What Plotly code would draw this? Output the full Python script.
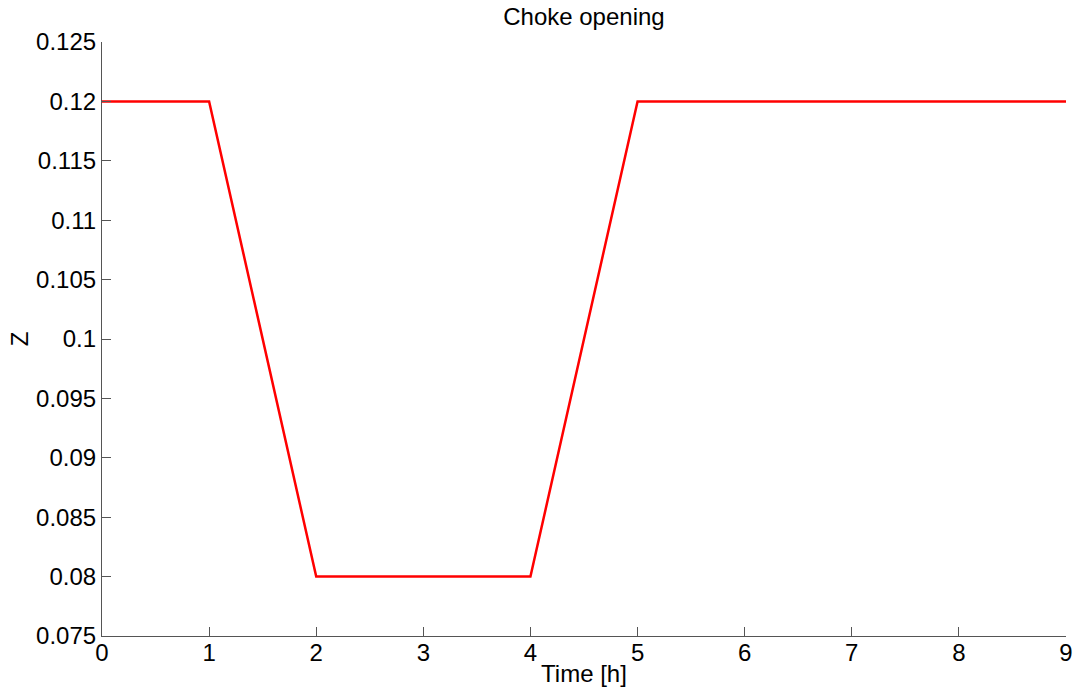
import plotly.graph_objects as go

time_h = [0, 1, 2, 4, 5, 9]
z_values = [0.12, 0.12, 0.08, 0.08, 0.12, 0.12]
x_ticks = [0, 1, 2, 3, 4, 5, 6, 7, 8, 9]
y_ticks = [0.075, 0.08, 0.085, 0.09, 0.095, 0.1, 0.105, 0.11, 0.115, 0.12, 0.125]
y_labels = ["0.075", "0.08", "0.085", "0.09", "0.095", "0.1", "0.105", "0.11", "0.115", "0.12", "0.125"]

fig = go.Figure()
fig.add_trace(go.Scatter(x=time_h, y=z_values, mode="lines",
                         line=dict(color="#ff0000", width=2.5), showlegend=False))

FAM = "Liberation Sans, Arial, sans-serif"
font = dict(family=FAM, size=24, color="black")
axis_common = dict(showgrid=False, zeroline=False, showline=True, linecolor="#555555",
                   linewidth=1.2, ticks="inside", ticklen=9, tickcolor="#555555",
                   tickwidth=1, tickfont=font, mirror=False, automargin=False)

fig.update_layout(
    width=1080, height=693,
    margin=dict(l=102, r=14, t=42, b=57),
    paper_bgcolor="white", plot_bgcolor="white",
    title=dict(text="Choke opening", x=0.5407, xanchor="center", y=1 - 17 / 693, yanchor="middle",
               font=dict(family=FAM, size=24, color="black")),
    xaxis=dict(range=[0, 9], tickvals=x_ticks, ticktext=[str(v) for v in x_ticks],
               title=dict(text="Time [h]", font=font, standoff=0), ticklabelstandoff=-5, **axis_common),
    yaxis=dict(range=[0.075, 0.125], tickvals=y_ticks, ticktext=y_labels,
               title=dict(text="Z", font=font, standoff=0), ticklabelstandoff=0, **axis_common),
)

fig.write_html("out.html", config={"displayModeBar": False},
               post_script="document.body.style.margin='0px';")
